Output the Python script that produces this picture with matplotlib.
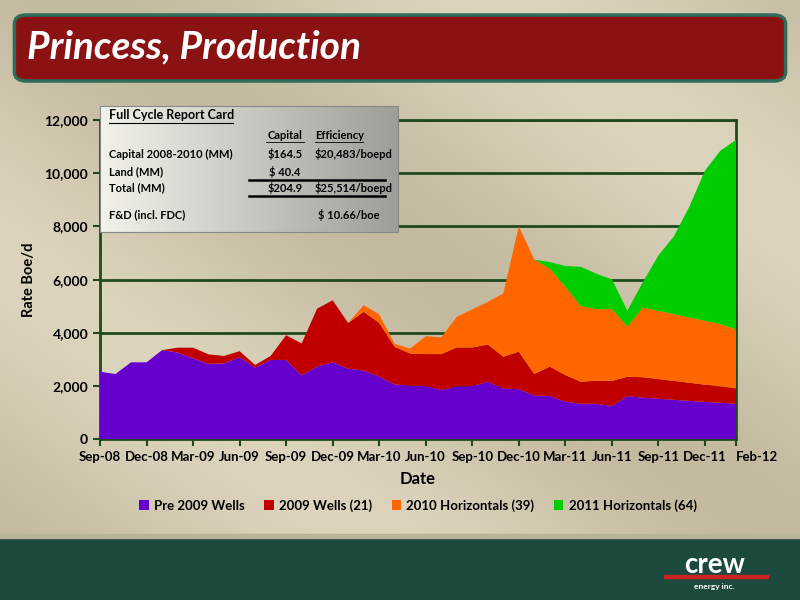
import numpy as np
import matplotlib
matplotlib.use("Agg")
import matplotlib.pyplot as plt
from matplotlib.patches import FancyBboxPatch, Rectangle

plt.rcParams['font.family'] = ['Lato', 'DejaVu Sans']

# data (Boe/d), monthly Sep-08 .. Feb-12
months = ['Sep-08', 'Oct-08', 'Nov-08', 'Dec-08', 'Jan-09', 'Feb-09', 'Mar-09', 'Apr-09', 'May-09',
          'Jun-09', 'Jul-09', 'Aug-09', 'Sep-09', 'Oct-09', 'Nov-09', 'Dec-09', 'Jan-10', 'Feb-10',
          'Mar-10', 'Apr-10', 'May-10', 'Jun-10', 'Jul-10', 'Aug-10', 'Sep-10', 'Oct-10', 'Nov-10',
          'Dec-10', 'Jan-11', 'Feb-11', 'Mar-11', 'Apr-11', 'May-11', 'Jun-11', 'Jul-11', 'Aug-11',
          'Sep-11', 'Oct-11', 'Nov-11', 'Dec-11', 'Jan-12', 'Feb-12']
pre2009 = [2540, 2450, 2890, 2890, 3350, 3260, 3040, 2830, 2850, 3080, 2690, 2980, 2980, 2400,
           2730, 2890, 2650, 2580, 2350, 2060, 2010, 2000, 1850, 1980, 2000, 2160, 1900, 1880,
           1640, 1620, 1410, 1330, 1330, 1250, 1620, 1560, 1520, 1480, 1440, 1400, 1370, 1330]
wells2009 = [0, 0, 0, 0, 0, 180, 400, 360, 280, 230, 100, 150, 930, 1200, 2180, 2330, 1720, 2210,
             2020, 1410, 1210, 1200, 1350, 1470, 1450, 1400, 1200, 1410, 810, 1110, 1000, 830, 870,
             940, 730, 770, 740, 710, 680, 650, 610, 580]
horiz2010 = [0] * 17 + [250, 320, 110, 190, 670, 630, 1150, 1430, 1600, 2380, 4710, 4300, 3680,
                        3320, 2840, 2690, 2700, 1880, 2620, 2560, 2510, 2450, 2400, 2340, 2220]
horiz2011 = [0] * 28 + [0, 250, 780, 1480, 1330, 1120, 600, 960, 2090, 2930, 4180, 5650, 6530, 7120]
series_names = ['Pre 2009 Wells', '2009 Wells (21)', '2010 Horizontals (39)', '2011 Horizontals (64)']
series_colors = ['#6600cc', '#c00000', '#ff6600', '#00cc00']

fig = plt.figure(figsize=(8, 6), dpi=100)

# background
bg = fig.add_axes([0, 0, 1, 1], zorder=-10)
g = np.linspace(0, 1, 200)
base = np.array([0.86, 0.83, 0.74])
dark = np.array([0.70, 0.66, 0.55])
yy, xx = np.meshgrid(g, g, indexing='ij')
mix = (0.5 + 0.5 * np.sin(6 * (xx - yy) + 1.0)) * 0.6
bgimg = base * (1 - mix[..., None]) + dark * mix[..., None]
bg.imshow(bgimg, extent=[0, 1, 0, 1], aspect='auto')
bg.add_patch(Rectangle((0, 0), 1, 0.108, color='#1d4a3f'))
bg.add_patch(Rectangle((0, 0.104), 1, 0.006, color='#b8b49a'))
bg.add_patch(FancyBboxPatch((0.018, 0.865), 0.964, 0.11, boxstyle='round,pad=0,rounding_size=0.015',
                            fc='#8a1212', ec='#2e6b5a', lw=2.5))
bg.set_xlim(0, 1)
bg.set_ylim(0, 1)
bg.axis('off')
fig.text(0.034, 0.922, 'Princess, Production', fontsize=28, fontweight='bold', style='italic',
         color='white', va='center')
# logo
fig.text(0.893, 0.058, 'crew', fontsize=20, fontweight='bold', color='white', ha='center', va='center')
fig.add_artist(Rectangle((0.83, 0.037), 0.13, 0.004, color='#cc2222', transform=fig.transFigure))
fig.text(0.893, 0.018, 'energy inc.', fontsize=6, fontweight='bold', color='white', ha='center')

ax = fig.add_axes([0.125, 0.268, 0.795, 0.532])
ax.patch.set_alpha(0)
x = np.arange(len(months))
ax.stackplot(x, pre2009, wells2009, horiz2010, horiz2011, colors=series_colors,
             labels=series_names, lw=0, zorder=3)
ax.set_xlim(0, len(months) - 1)
ax.set_ylim(0, 12000)
ax.set_yticks(range(0, 12001, 2000))
ax.set_yticklabels([f'{v:,}' for v in range(0, 12001, 2000)], fontsize=10, fontweight='bold')
tick_idx = list(x[::3]) + [len(months) - 1]
ax.set_xticks(tick_idx)
ax.set_xticklabels([months[i] for i in tick_idx], fontsize=9.5, fontweight='bold')
ax.get_xticklabels()[-1].set_horizontalalignment('left')
ax.grid(axis='y', color='#1f4a1f', lw=2, zorder=1)
for s in ax.spines.values():
    s.set_color('#1f4a1f')
    s.set_linewidth(2)
ax.tick_params(color='#1f4a1f', width=1.5, length=5)
ax.set_xlabel('Date', fontsize=12, fontweight='bold', labelpad=6)
ax.set_ylabel('Rate Boe/d', fontsize=10.5, fontweight='bold', labelpad=6)
ax.legend(loc='upper center', bbox_to_anchor=(0.5, -0.15), ncol=4, frameon=False,
          prop={'weight': 'bold', 'size': 9.5}, handlelength=0.7, handleheight=0.7,
          columnspacing=1.5, handletextpad=0.4)

# report card box
card = fig.add_axes([0.125, 0.613, 0.373, 0.21], zorder=5)
grad = np.linspace(0.95, 0.62, 100)[None, :]
card.imshow(np.dstack([grad, grad, grad * 0.97]), extent=[0, 1, 0, 1], aspect='auto')
card.set_xlim(0, 1)
card.set_ylim(0, 1)
card.set_xticks([])
card.set_yticks([])
for s in card.spines.values():
    s.set_color('#888888')
kw = dict(fontsize=8, fontweight='bold', va='center')
card.text(0.03, 0.93, 'Full Cycle Report Card', fontsize=9, fontweight='bold', va='center')
card.plot([0.03, 0.445], [0.87, 0.87], color='black', lw=0.8)
card.text(0.62, 0.77, 'Capital', ha='center', **kw)
card.text(0.72, 0.77, 'Efficiency', **kw)
card.plot([0.555, 0.685], [0.715, 0.715], color='black', lw=0.6)
card.plot([0.72, 0.88], [0.715, 0.715], color='black', lw=0.6)
rows = [('Capital 2008-2010 (MM)', '$164.5', '$20,483/boepd', 0.62),
        ('Land (MM)', '$ 40.4', '', 0.48),
        ('Total (MM)', '$204.9', '$25,514/boepd', 0.35)]
for lab, cap, eff, yv in rows:
    card.text(0.03, yv, lab, **kw)
    card.text(0.62, yv, cap, ha='center', **kw)
    card.text(0.72, yv, eff, **kw)
card.plot([0.5, 0.955], [0.415, 0.415], color='black', lw=1.8)
card.plot([0.5, 0.955], [0.285, 0.285], color='black', lw=1.8)
card.text(0.03, 0.14, 'F&D (incl. FDC)', **kw)
card.text(0.73, 0.14, '$ 10.66/boe', **kw)

fig.savefig('out.png', dpi=100)
